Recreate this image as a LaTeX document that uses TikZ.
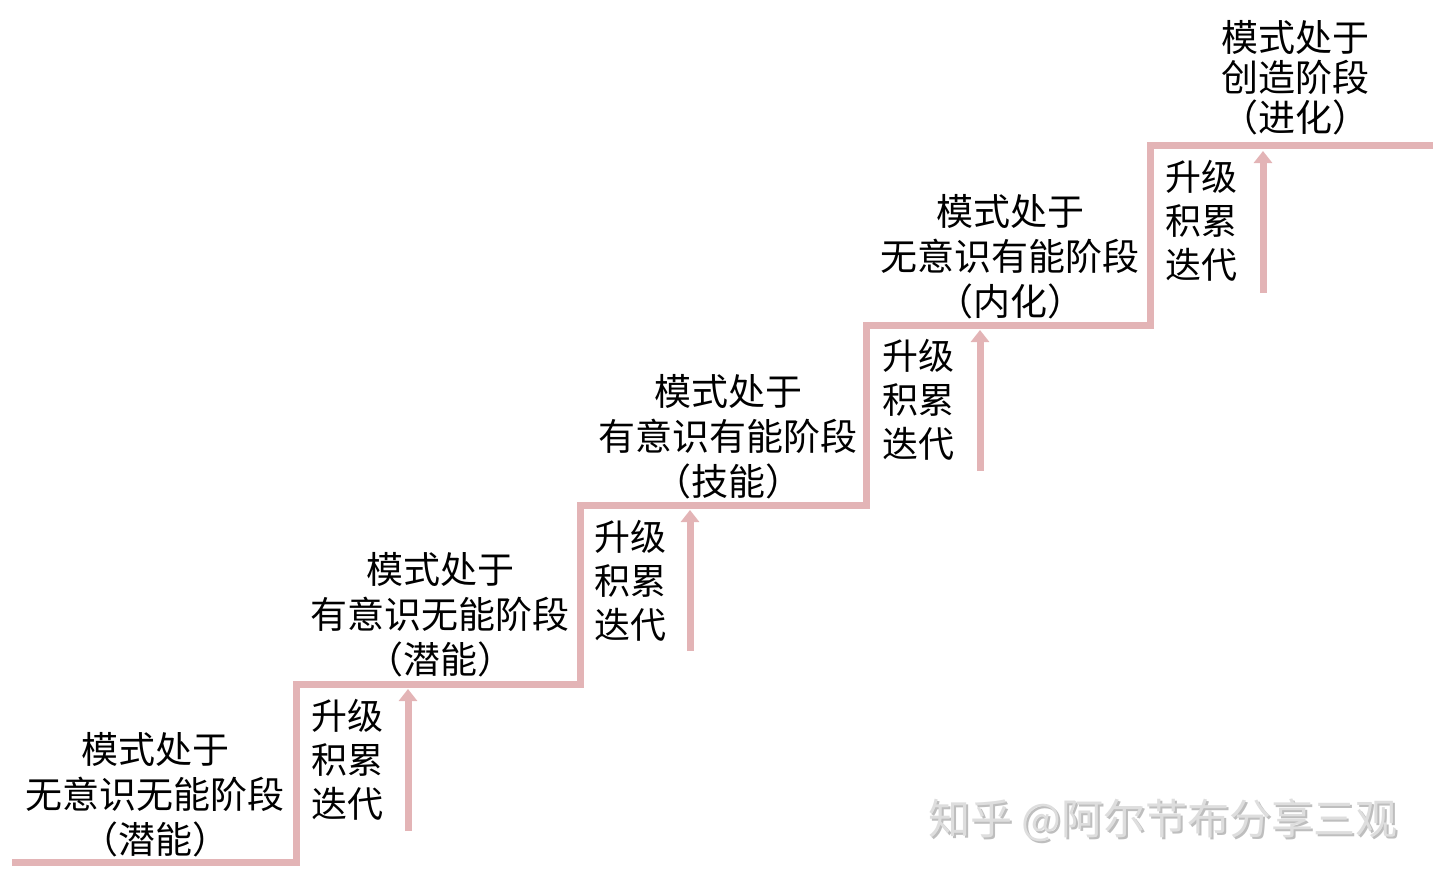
\documentclass[tikz,border=0pt]{standalone}
\usepackage{fontspec}
\setmainfont{Noto Sans CJK SC}
\usetikzlibrary{arrows.meta}
\definecolor{stair}{RGB}{227,180,182}
\definecolor{wm}{RGB}{222,222,222}
\definecolor{wmshadow}{RGB}{190,190,190}
\begin{document}
\begin{tikzpicture}[x=1pt,y=-1pt,
  stage/.style={align=center,font=\fontsize{37}{45}\selectfont,inner sep=0pt},
  act/.style={align=left,anchor=west,font=\fontsize{36}{44}\selectfont,inner sep=0pt},
  stairline/.style={draw=stair,line width=7pt,line join=miter},
  uparrow/.style={draw=stair,line width=7pt,-{Triangle[width=18pt,length=12pt]}}]
\useasboundingbox (0,0) rectangle (1440,880);
% staircase corners
\coordinate (s0) at (12,862);
\coordinate (s1) at (296,862);
\coordinate (s2) at (296,684);
\coordinate (s3) at (580,684);
\coordinate (s4) at (580,505);
\coordinate (s5) at (866,505);
\coordinate (s6) at (866,325);
\coordinate (s7) at (1150,325);
\coordinate (s8) at (1150,146);
\coordinate (s9) at (1433,146);
\draw[stairline] (s0) -- (s1) -- (s2) -- (s3) -- (s4) -- (s5) -- (s6) -- (s7) -- (s8) -- (s9);
% arrows
\coordinate (a1s) at (408,831); \coordinate (a1e) at (408,689);
\coordinate (a2s) at (690,651); \coordinate (a2e) at (690,510);
\coordinate (a3s) at (980,471); \coordinate (a3e) at (980,330);
\coordinate (a4s) at (1263,293); \coordinate (a4e) at (1263,151);
\draw[uparrow] (a1s) -- (a1e);
\draw[uparrow] (a2s) -- (a2e);
\draw[uparrow] (a3s) -- (a3e);
\draw[uparrow] (a4s) -- (a4e);
% stage labels
\node[stage] (st1) at (155,795) {模式处于\\无意识无能阶段\\（潜能）};
\node[stage] (st2) at (440,615) {模式处于\\有意识无能阶段\\（潜能）};
\node[stage] (st3) at (728,437) {模式处于\\有意识有能阶段\\（技能）};
\node[stage] (st4) at (1010,257) {模式处于\\无意识有能阶段\\（内化）};
\node[stage] (st5) at (1295,78) {模式处于\\[-5pt]创造阶段\\[-5pt]（进化）};
% action labels
\node[act] (ac1) at (311,760) {升级\\积累\\迭代};
\node[act] (ac2) at (594,581) {升级\\积累\\迭代};
\node[act] (ac3) at (882,400) {升级\\积累\\迭代};
\node[act] (ac4) at (1165,221) {升级\\积累\\迭代};
% watermark
\node[font=\fontsize{42}{42}\selectfont,text=wmshadow,inner sep=0pt] (wms) at (1165,822) {知乎 @阿尔节布分享三观};
\node[font=\fontsize{42}{42}\selectfont,text=wm,inner sep=0pt] (wmt) at (1163,820) {知乎 @阿尔节布分享三观};
\end{tikzpicture}
\end{document}
